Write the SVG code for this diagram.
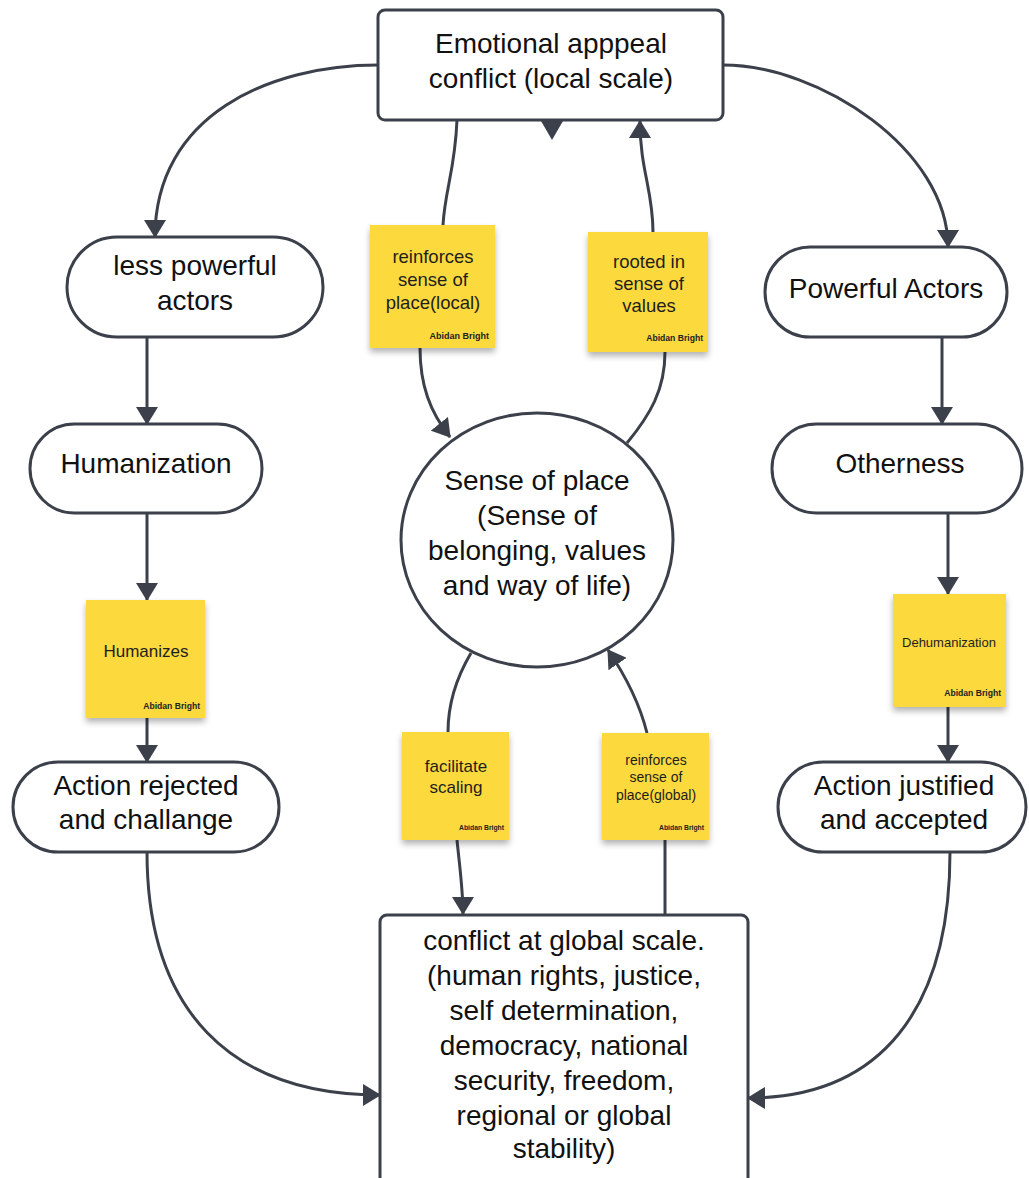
<svg xmlns="http://www.w3.org/2000/svg" width="1029" height="1178" viewBox="0 0 1029 1178">
<style>
.shape{fill:#ffffff;stroke:#3b404a;stroke-width:3}
.conn{fill:none;stroke:#3b404a;stroke-width:3}
.t{font-family:"Liberation Sans",Arial,sans-serif;font-size:28px;fill:#111;text-anchor:middle}
.st{font-family:"Liberation Sans",Arial,sans-serif;fill:#1e1e1e;text-anchor:middle}
.sig{font-family:"Liberation Sans",Arial,sans-serif;font-weight:bold;fill:#222;text-anchor:end}
.note{fill:#fcd93c}
</style>
<defs>
<marker id="arr" viewBox="0 0 18 22" refX="17" refY="11" markerWidth="18" markerHeight="22" markerUnits="userSpaceOnUse" orient="auto">
<path d="M0,0 L18,11 L0,22 z" fill="#3b404a"/>
</marker>
<filter id="shadow" x="-20%" y="-20%" width="140%" height="150%">
<feDropShadow dx="0" dy="4" stdDeviation="3" flood-color="#000" flood-opacity="0.3"/>
</filter>
</defs>
<rect width="1029" height="1178" fill="#ffffff"/>

<g id="connectors">
<path class="conn" d="M378,65 C270,65 155,115 155,237" marker-end="url(#arr)"/>
<path class="conn" d="M723,65 C820,65 948,150 948,247" marker-end="url(#arr)"/>
<path class="conn" d="M147,337 L147,424" marker-end="url(#arr)"/>
<path class="conn" d="M147,513 L147,600" marker-end="url(#arr)"/>
<path class="conn" d="M147,718 L147,762" marker-end="url(#arr)"/>
<path class="conn" d="M942,337 L942,424" marker-end="url(#arr)"/>
<path class="conn" d="M948,513 L948,594" marker-end="url(#arr)"/>
<path class="conn" d="M948,707 L948,762" marker-end="url(#arr)"/>
<path class="conn" d="M147,852 C147,1010 230,1095 380,1095" marker-end="url(#arr)"/>
<path class="conn" d="M950,852 C950,1010 880,1098 748,1098" marker-end="url(#arr)"/>
<path class="conn" d="M457,120 C455,170 445,190 443,225"/>
<path class="conn" d="M420,348 C420,385 430,412 450,437" marker-end="url(#arr)"/>
<path class="conn" d="M627,443 C650,415 665,390 665,352"/>
<path class="conn" d="M653,232 C653,190 640,170 640,121" marker-end="url(#arr)"/>
<polygon points="541,121 563,121 552,140" fill="#3b404a"/>
<path class="conn" d="M471,653 C455,680 448,705 448,732"/>
<path class="conn" d="M457,840 C460,870 463,890 463,914" marker-end="url(#arr)"/>
<path class="conn" d="M665,915 L665,840"/>
<path class="conn" d="M647,733 C640,705 625,675 608,650" marker-end="url(#arr)"/>
</g>

<g id="local-conflict">
<rect class="shape" x="378" y="10" width="345" height="110" rx="7"/>
<text class="t" x="551" y="53">Emotional apppeal</text>
<text class="t" x="551" y="88">conflict (local scale)</text>
</g>

<g id="less-powerful">
<rect class="shape" x="67" y="237" width="256" height="100" rx="50"/>
<text class="t" x="195" y="275">less powerful</text>
<text class="t" x="195" y="310">actors</text>
</g>

<g id="powerful">
<rect class="shape" x="765" y="247" width="242" height="90" rx="45"/>
<text class="t" x="886" y="298">Powerful Actors</text>
</g>

<g id="humanization">
<rect class="shape" x="30" y="424" width="232" height="89" rx="44.5"/>
<text class="t" x="146" y="473">Humanization</text>
</g>

<g id="otherness">
<rect class="shape" x="772" y="424" width="250" height="89" rx="44.5"/>
<text class="t" x="900" y="473">Otherness</text>
</g>

<g id="sense-of-place">
<ellipse class="shape" cx="537" cy="540" rx="136" ry="127"/>
<text class="t" x="537" y="490">Sense of place</text>
<text class="t" x="537" y="525">(Sense of</text>
<text class="t" x="537" y="560">belonging, values</text>
<text class="t" x="537" y="595">and way of life)</text>
</g>

<g id="action-rejected">
<rect class="shape" x="13" y="762" width="266" height="90" rx="45"/>
<text class="t" x="146" y="795">Action rejected</text>
<text class="t" x="146" y="829">and challange</text>
</g>

<g id="action-justified">
<rect class="shape" x="778" y="762" width="248" height="90" rx="45"/>
<text class="t" x="904" y="795">Action justified</text>
<text class="t" x="904" y="829">and accepted</text>
</g>

<g id="global-conflict">
<rect class="shape" x="380" y="915" width="368" height="280" rx="7"/>
<text class="t" x="564" y="950">conflict at global scale.</text>
<text class="t" x="564" y="985">(human rights, justice,</text>
<text class="t" x="564" y="1020">self determination,</text>
<text class="t" x="564" y="1055">democracy, national</text>
<text class="t" x="564" y="1090">security, freedom,</text>
<text class="t" x="564" y="1125">regional or global</text>
<text class="t" x="564" y="1158">stability)</text>
</g>

<g id="note-reinforces-local">
<rect class="note" x="370" y="225" width="125" height="123" filter="url(#shadow)"/>
<text class="st" x="433" y="263" font-size="18.5">reinforces</text>
<text class="st" x="433" y="286" font-size="18.5">sense of</text>
<text class="st" x="433" y="309" font-size="18.5">place(local)</text>
<text class="sig" x="489" y="339" font-size="9">Abidan Bright</text>
</g>

<g id="note-rooted">
<rect class="note" x="588" y="232" width="120" height="120" filter="url(#shadow)"/>
<text class="st" x="649" y="268" font-size="18.5">rooted in</text>
<text class="st" x="649" y="290" font-size="18.5">sense of</text>
<text class="st" x="649" y="312" font-size="18.5">values</text>
<text class="sig" x="703" y="341" font-size="8.6">Abidan Bright</text>
</g>

<g id="note-humanizes">
<rect class="note" x="86" y="600" width="119" height="118" filter="url(#shadow)"/>
<text class="st" x="146" y="657" font-size="17">Humanizes</text>
<text class="sig" x="200" y="709" font-size="8.6">Abidan Bright</text>
</g>

<g id="note-dehumanization">
<rect class="note" x="893" y="594" width="113" height="113" filter="url(#shadow)"/>
<text class="st" x="949" y="647" font-size="13">Dehumanization</text>
<text class="sig" x="1001" y="696" font-size="8.6">Abidan Bright</text>
</g>

<g id="note-facilitate">
<rect class="note" x="402" y="732" width="107" height="108" filter="url(#shadow)"/>
<text class="st" x="456" y="772" font-size="17">facilitate</text>
<text class="st" x="456" y="793" font-size="17">scaling</text>
<text class="sig" x="504" y="830" font-size="6.8">Abidan Bright</text>
</g>

<g id="note-reinforces-global">
<rect class="note" x="602" y="733" width="107" height="107" filter="url(#shadow)"/>
<text class="st" x="656" y="765" font-size="14">reinforces</text>
<text class="st" x="656" y="782" font-size="14">sense of</text>
<text class="st" x="656" y="800" font-size="14">place(global)</text>
<text class="sig" x="704" y="830" font-size="6.8">Abidan Bright</text>
</g>
</svg>
